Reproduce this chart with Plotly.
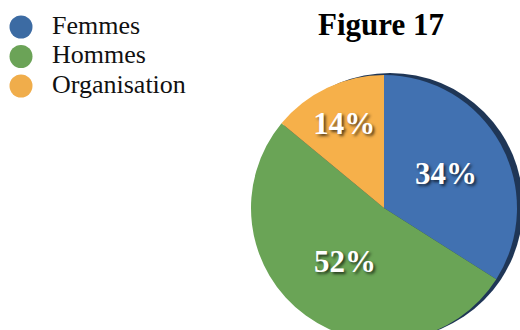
import plotly.graph_objects as go

# Répartition (en %)
categories = ["Femmes", "Hommes", "Organisation"]
shares = [34, 52, 14]
slice_colors = ["#4171b1", "#6aa456", "#f6b04a"]
key_colors = ["#3c6ba3", "#6ba357", "#f0ad4b"]
title_text = "Figure 17"

SERIF = "Liberation Serif, Times New Roman, serif"
W, H = 530, 345

fig = go.Figure()

# dark rim behind the pie (offset copy)
fig.add_trace(go.Pie(
    values=[1], labels=["rim"], sort=False, showlegend=False,
    marker=dict(colors=["#1f3656"], line=dict(width=0)),
    textinfo="none", hoverinfo="skip",
    domain=dict(x=[257 / W, 523 / W], y=[(H - 339) / H, (H - 73) / H]),
))

fig.add_trace(go.Pie(
    values=shares, labels=categories, sort=False, direction="clockwise",
    rotation=0, showlegend=False,
    marker=dict(colors=slice_colors, line=dict(width=0)),
    texttemplate="%{value}%", textposition="inside",
    insidetextorientation="horizontal",
    insidetextfont=dict(family=SERIF, size=31, color="white", weight="bold",
                        shadow="2px 2px 3px rgba(0,0,0,0.65)"),
    domain=dict(x=[251 / W, 517 / W], y=[(H - 341) / H, (H - 75) / H]),
))

# key: circles with category names
idx = list(range(len(categories)))
fig.add_trace(go.Scatter(
    x=[0] * len(categories), y=idx, mode="markers",
    marker=dict(size=23, color=key_colors, line=dict(width=0)),
    showlegend=False, hoverinfo="skip",
))
fig.add_trace(go.Scatter(
    x=[0.31] * len(categories), y=idx, mode="text", text=categories,
    textposition="middle right",
    textfont=dict(family=SERIF, size=26, color="#111111"),
    showlegend=False, hoverinfo="skip",
))

fig.update_layout(
    width=W, height=H,
    margin=dict(l=0, r=0, t=0, b=0),
    paper_bgcolor="white", plot_bgcolor="rgba(0,0,0,0)",
    xaxis=dict(domain=[0, 1], range=[-0.21, 5.09], visible=False, fixedrange=True),
    yaxis=dict(domain=[0, 1], range=[(H - 27) / 29.5, -27 / 29.5], visible=False,
               fixedrange=True),
    annotations=[dict(
        text="<b>" + title_text + "</b>", x=381 / W, y=1 - 25 / H,
        xref="paper", yref="paper", xanchor="center", yanchor="middle",
        showarrow=False, font=dict(family=SERIF, size=31, color="#000000"),
    )],
)

fig.write_html(
    "out.html",
    config={"displayModeBar": False},
    post_script="document.documentElement.style.overflow='hidden';"
                "document.body.style.overflow='hidden';",
)
